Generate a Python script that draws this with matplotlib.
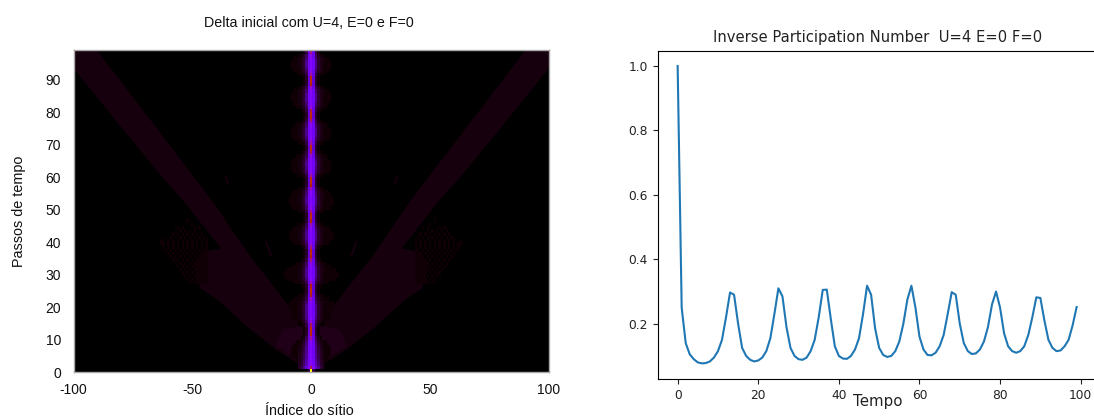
import numpy as np
import matplotlib
matplotlib.use("Agg")
import matplotlib.pyplot as plt

W, H = 1094, 419

# --- right panel: inverse participation number, one value per time step
ipn = [1.0, .25, .14, .105, .09, .08, .077, .078, .083, .095, .115, .15, .22, .297, .29, .2, .125, .1, .088, .083,
       .086, .095, .115, .155, .23, .31, .285, .19, .125, .1, .09, .088, .095, .115, .15, .22, .305, .306, .215, .13,
       .1, .092, .091, .1, .12, .155, .23, .318, .29, .185, .125, .103, .097, .1, .115, .145, .2, .275, .318, .25,
       .16, .12, .103, .102, .11, .13, .165, .23, .298, .29, .2, .14, .115, .106, .108, .12, .145, .19, .26, .3,
       .25, .17, .13, .115, .11, .115, .13, .165, .22, .282, .28, .21, .15, .125, .115, .117, .13, .15, .195, .252]

# --- left panel: density along the central sites, one value per time step
center = [1.0, .45, .3, .27, .26, .25, .25, .26, .27, .3, .4, .52, .55, .55, .45, .33, .28, .26, .25, .25,
          .26, .28, .36, .48, .55, .56, .5, .36, .29, .26, .25, .26, .28, .33, .42, .52, .56, .54, .42, .31,
          .27, .25, .25, .27, .3, .38, .5, .56, .55, .42, .31, .27, .25, .25, .27, .3, .38, .5, .56, .55,
          .4, .31, .27, .25, .26, .28, .34, .46, .55, .54, .4, .31, .27, .25, .26, .28, .33, .44, .54, .56,
          .46, .34, .28, .26, .25, .26, .29, .36, .5, .55, .53, .4, .31, .27, .25, .26, .28, .33, .42, .5]
side1 = [.05, .26, .22, .21, .2, .2, .2, .2, .2, .19, .18, .17, .16, .16, .17, .18, .2, .2, .2, .2,
         .2, .2, .19, .17, .16, .16, .16, .18, .2, .2, .2, .2, .2, .19, .18, .16, .16, .16, .18, .19,
         .2, .2, .2, .2, .19, .18, .16, .16, .16, .18, .19, .2, .2, .2, .2, .19, .18, .16, .16, .16,
         .18, .19, .2, .2, .2, .2, .18, .17, .16, .16, .18, .19, .2, .2, .2, .2, .19, .18, .16, .16,
         .17, .18, .2, .2, .2, .2, .2, .18, .16, .16, .16, .18, .19, .2, .2, .2, .2, .19, .18, .16]
side2 = [0, .16, .12, .11, .1, .1, .09, .09, .08, .07, .05, .03, .025, .025, .04, .06, .08, .09, .09, .09,
         .09, .07, .05, .04, .025, .025, .03, .05, .07, .09, .09, .09, .07, .06, .04, .03, .025, .025, .04, .06,
         .08, .09, .09, .08, .06, .05, .03, .025, .025, .04, .06, .08, .09, .09, .08, .06, .05, .03, .025, .025,
         .04, .06, .08, .09, .09, .07, .05, .04, .025, .025, .04, .06, .08, .09, .09, .07, .06, .04, .025, .025,
         .04, .05, .07, .09, .09, .09, .07, .05, .03, .025, .03, .04, .06, .08, .09, .09, .07, .06, .04, .03]
side3 = [0, .09, .07, .06, .05, .05, .045, .04, .035, .025, .015, .006, .004, .004, .008, .02, .03, .035, .035, .035,
         .035, .03, .02, .008, .004, .004, .006, .02, .03, .035, .035, .035, .03, .02, .01, .006, .004, .004, .01, .025,
         .03, .035, .035, .03, .025, .012, .006, .004, .004, .01, .025, .03, .035, .035, .03, .025, .012, .006, .004, .004,
         .01, .025, .03, .035, .035, .03, .02, .008, .004, .004, .01, .025, .03, .035, .035, .03, .02, .01, .004, .004,
         .008, .02, .03, .035, .035, .035, .03, .02, .006, .004, .006, .01, .025, .03, .035, .035, .03, .02, .01, .006]
halo_w = [0, 3, 5, 6, 7, 8, 8, 8, 7, 6, 4, 3, 3, 3, 4, 6, 8, 8, 8, 9,
          9, 9, 7, 5, 3, 3, 4, 7, 10, 11, 11, 10, 8, 6, 4, 3, 3, 3, 4, 7,
          8, 9, 9, 8, 7, 5, 3, 3, 3, 5, 8, 9, 9, 9, 8, 7, 5, 3, 3, 3,
          5, 7, 8, 8, 8, 7, 6, 4, 3, 3, 5, 7, 8, 8, 8, 7, 6, 4, 3, 3,
          4, 6, 7, 8, 8, 8, 7, 5, 3, 3, 3, 5, 7, 8, 8, 8, 7, 5, 3, 3]
falloff = [0.5, 0.28]      # sites 4 and 5, relative to site 3
halo_level = 0.007

# --- left panel: outline of the faint wedge on the negative side
wedge_sites = [0, -15, -27, -39, -47, -47, -46, -38, -54, -65, -100, -100, -90, -42, -27, -25, -8, -5, 0]
wedge_steps = [0, 7, 14, 22, 26, 31, 37, 38, 53, 62, 93.5, 99, 99, 53, 37, 35, 19, 14, 4]
glow_sites = [0, -6, -15, -12, -5, 0]
glow_steps = [0, 4, 8, 13, 14, 14]
spot_sites = [-19, -17]
spot_steps = [40, 36]
spot2_sites = [-36, -35]
spot2_steps = [60, 58]

# --- left panel: dotted patch beside the wedge, top row = step 46, first column = site -63
texture = [
    "...........#........",
    ".............#......",
    ".......#.#....#.#...",
    "......#.#.#.#.#.....",
    ".....#.#.#.#.#.#.#..",
    "....#.#.#.#.#.#.#.#.",
    "#..#.#.#.#.#.#.#.#.#",
    "##.#.#.#.#.#.#.#.#.#",
    ".#.#.#.#.#.#.#.#.#.#",
    "..#.#.#.#.#.#.#.#.##",
    "...#.#.#.#.#.#.#.###",
    "....#.#.#.#.#.#.####",
    ".....#.#.#.#.#.#####",
    "......#.#.#.#.######",
    ".......#.#.#.#######",
    "........#.#.#.######",
    ".........#.#.#.#####",
    "..........#.#.######",
    "...........#.#.#####",
    "............#.######",
]
texture_top = 46
texture_left = -63
texture_level = 0.005
wedge_level = 0.01
glow_level = 0.016

x_ticks = [-100, -50, 0, 50, 100]
x_labels = ["-100", "-50", "0", "50", "100"]
y_ticks = [0, 10, 20, 30, 40, 50, 60, 70, 80, 90]
y_labels = ["0", "10", "20", "30", "40", "50", "60", "70", "80", "90"]

fig = plt.figure(figsize=(W / 100, H / 100), dpi=100, facecolor="white")

def box(l, t, r, b):
    return [l / W, 1 - b / H, (r - l) / W, (b - t) / H]

# ---------- left panel
cm = matplotlib.colormaps["gnuplot"]
sans = ["Liberation Sans", "DejaVu Sans"]
ax = fig.add_axes(box(73.5, 50.5, 549, 372), facecolor="black")

ax.fill(wedge_sites, wedge_steps, color=cm(wedge_level), lw=0)
ax.fill(-np.array(wedge_sites), wedge_steps, color=cm(wedge_level), lw=0)
ax.fill(glow_sites, glow_steps, color=cm(glow_level), lw=0)
ax.fill(-np.array(glow_sites), glow_steps, color=cm(glow_level), lw=0)
for xs, ys in ((spot_sites, spot_steps), (spot2_sites, spot2_steps)):
    ax.plot(xs, ys, color=cm(wedge_level), lw=1.5)
    ax.plot(-np.array(xs), ys, color=cm(wedge_level), lw=1.5)

# dotted patch, as cells
rows, cols = len(texture), len(texture[0])
T = np.ma.masked_all((rows, cols))
for r, s in enumerate(texture):
    for c, ch in enumerate(s):
        if ch == "#":
            T[r, c] = texture_level
tx = texture_left + np.arange(cols + 1) - 0.5
ty = texture_top + 1 - np.arange(rows + 1)
ax.pcolormesh(tx, ty, T, cmap=cm, vmin=0, vmax=1, linewidth=0)
ax.pcolormesh(-tx, ty, T, cmap=cm, vmin=0, vmax=1, linewidth=0)

# central column, as cells
n = 13
sites = np.arange(-n, n + 1)
Z = np.ma.masked_all((len(center), len(sites)))
for t in range(len(center)):
    hw = halo_w[t]
    for k in range(4, hw + 1):
        Z[t, n + k] = Z[t, n - k] = halo_level
    Z[t, n] = center[t]
    Z[t, n + 1] = Z[t, n - 1] = side1[t]
    Z[t, n + 2] = Z[t, n - 2] = side2[t]
    Z[t, n + 3] = Z[t, n - 3] = side3[t]
    for j, f in enumerate(falloff):
        v = side3[t] * f
        if v > 0.005:
            Z[t, n + 4 + j] = Z[t, n - 4 - j] = max(v, halo_level)
xe = np.arange(-n, n + 2) - 0.5
ye = np.arange(len(center) + 1)
ax.pcolormesh(xe, ye, Z, cmap=cm, vmin=0, vmax=1, linewidth=0)

ax.set_xlim(-100, 100)
ax.set_ylim(0, 99)
ax.set_xticks(x_ticks, x_labels, fontfamily=sans, fontsize=10, color="#111111")
ax.set_yticks(y_ticks, y_labels, fontfamily=sans, fontsize=10, color="#111111")
ax.tick_params(axis="x", length=0, pad=8)
ax.tick_params(axis="y", length=0, pad=9)
for sp in ax.spines.values():
    sp.set_color("#aaaaaa")
    sp.set_linewidth(1)
fig.text(309 / W, 1 - 23 / H, "Delta inicial com U=4, E=0 e F=0", family=sans, fontsize=10.25,
         ha="center", va="center", color="#111111")
fig.text(309 / W, 1 - 411 / H, "Índice do sítio", family=sans, fontsize=10.3,
         ha="center", va="center", color="#111111")
fig.text(19 / W, 1 - 211 / H, "Passos de tempo", family=sans, fontsize=10.4, rotation=90,
         ha="center", va="center", color="#111111")

# ---------- right panel
ax2 = fig.add_axes(box(657.7, 51, 1096.6, 379))
ax2.plot(range(len(ipn)), ipn, color="#1f77b4", lw=1.5)
ax2.set_xlim(-4.95, 103.95)
ax2.set_ylim(0.0285, 1.0465)
ax2.set_xticks([0, 20, 40, 60, 80, 100])
ax2.set_yticks([0.2, 0.4, 0.6, 0.8, 1.0])
ax2.tick_params(labelsize=8.8, length=3.5, width=0.8, colors="#222222")
ax2.set_title("Inverse Participation Number  U=4 E=0 F=0", fontsize=10.65, pad=6.5, color="#222222")
fig.text(878 / W, 1 - 401 / H, "Tempo", fontsize=10.8, ha="center", va="center", color="#222222")

fig.savefig("out.png", dpi=100, facecolor="white")
